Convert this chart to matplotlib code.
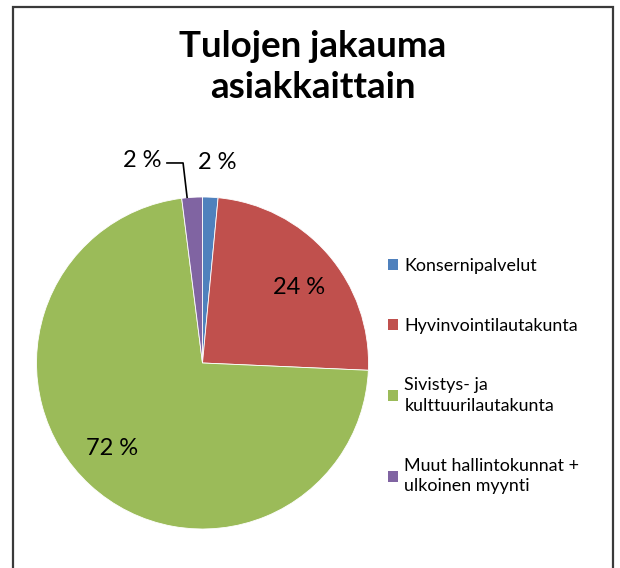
"""Tulojen jakauma asiakkaittain -piirakka."""

import numpy as np
import matplotlib
matplotlib.use("Agg")
import matplotlib.pyplot as plt
from matplotlib.patches import Rectangle, Patch

labels = [
    "Konsernipalvelut",
    "Hyvinvointilautakunta",
    "Sivistys- ja\nkulttuurilautakunta",
    "Muut hallintokunnat +\nulkoinen myynti",
]
shares = [1.5, 24.2, 72.3, 2.0]
colors = ["#4F81BD", "#C0504D", "#9BBB59", "#8064A2"]

plt.rcParams["font.family"] = ["Lato", "DejaVu Sans"]

W, H = 620, 568
fig = plt.figure(figsize=(W / 100, H / 100), dpi=100)

# chart frame (bottom edge runs past the image)
fig.patches.append(Rectangle((13 / W, -0.05), 600 / W, 1.05 - 7 / H,
                             transform=fig.transFigure, fill=False,
                             edgecolor="#3a3a3a", linewidth=1.6))

fig.text(0.504, 1 - 67 / H, "Tulojen jakauma\nasiakkaittain", ha="center",
         va="center", fontsize=26.5, fontweight="bold", linespacing=1.3)

# pie centre at (202.5, 363) px, radius 166 px
r_px = 166
cx, cy = 202.5, 363
ax = fig.add_axes([(cx - r_px) / W, (H - cy - r_px) / H, 2 * r_px / W, 2 * r_px / H])
wedges, _ = ax.pie(shares, colors=colors, startangle=90, counterclock=False,
                   radius=1, wedgeprops=dict(edgecolor="white", linewidth=0.6))
ax.set_xlim(-1, 1)
ax.set_ylim(-1, 1)
ax.set_aspect("equal")
ax.axis("off")

pct = [f"{round(s):.0f} %" for s in shares]


def mid_xy(w, r, shift=0.0):
    a = np.deg2rad((w.theta1 + w.theta2) / 2 + shift)
    return r * np.cos(a), r * np.sin(a)


# large slices: labels inside
x, y = mid_xy(wedges[1], 0.74, shift=-3)
ax.text(x, y, pct[1], ha="center", va="center", fontsize=17)
x, y = mid_xy(wedges[2], 0.75, shift=-4)
ax.text(x, y, pct[2], ha="center", va="center", fontsize=17)

# small slices: labels outside
x, y = mid_xy(wedges[0], 1.21)
ax.text(x + 0.03, y, pct[0], ha="center", va="center", fontsize=17, clip_on=False)

x, y = mid_xy(wedges[3], 1.0)
ax.plot([-0.214, -0.117, x - 0.03, ], [1.205, 1.205, y], color="black",
        linewidth=1.2, clip_on=False)
ax.text(-0.36, 1.217, pct[3], ha="center", va="center", fontsize=17, clip_on=False)

handles = [Patch(facecolor=c, edgecolor="none") for c in colors]
leg = fig.legend(handles, labels, loc="center left",
                 bbox_to_anchor=(372 / W, 1 - 376 / H),
                 frameon=False, fontsize=12.9, handlelength=0.55, handleheight=0.55,
                 handletextpad=0.35, labelspacing=2.45)
for t in leg.get_texts():
    t.set_linespacing(1.35)

fig.savefig("out.png", dpi=100)
